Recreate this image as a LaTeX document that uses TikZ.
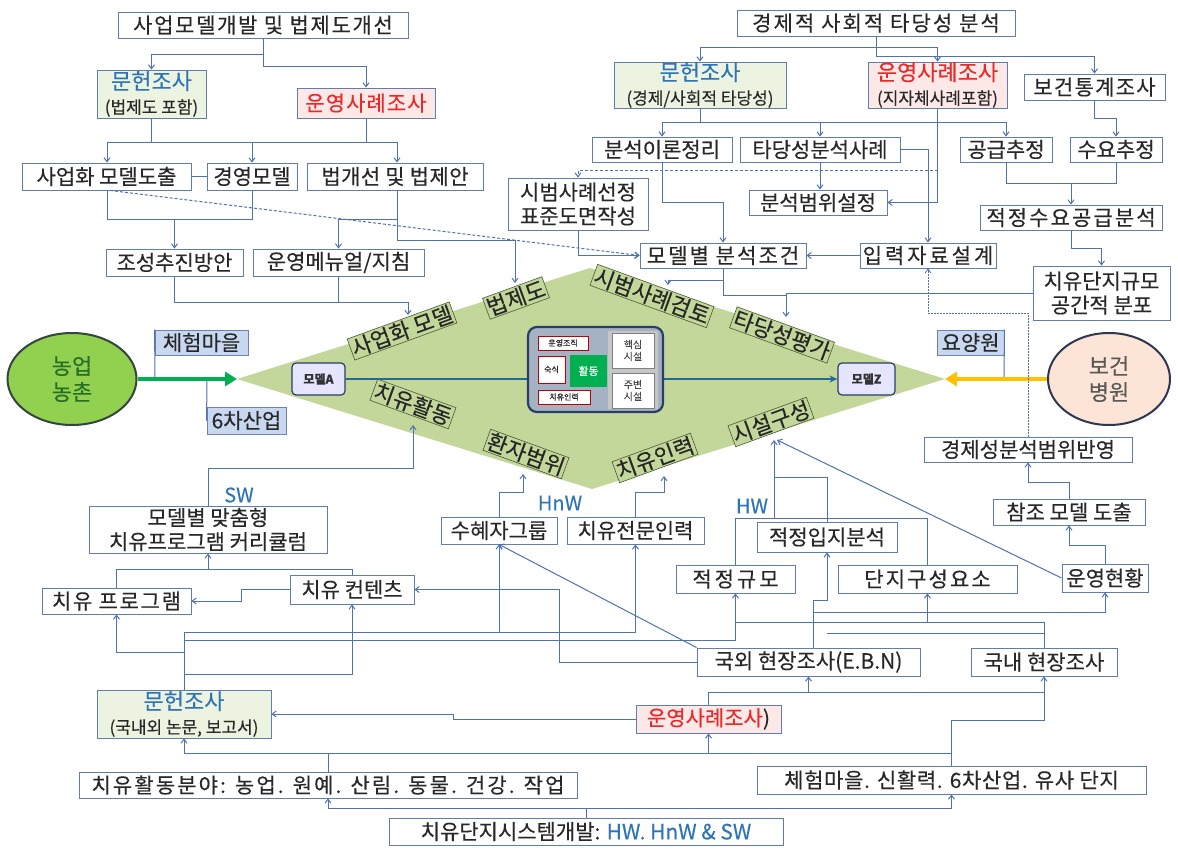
\documentclass[tikz,border=0pt]{standalone}
\usepackage{fontspec}
\setmainfont{Noto Sans CJK KR}[FakeBold=0.3]
\usetikzlibrary{arrows.meta,shapes.geometric}
\definecolor{bd}{RGB}{96,124,176}
\definecolor{cn}{RGB}{79,114,180}
\definecolor{tx}{RGB}{40,40,40}
\definecolor{dg}{RGB}{196,215,155}
\definecolor{dlbd}{RGB}{70,90,50}
\definecolor{blt}{RGB}{46,117,182}
\definecolor{rdt}{RGB}{235,40,40}
\definecolor{gfill}{RGB}{236,243,224}
\definecolor{pfill}{RGB}{253,232,232}
\definecolor{lfill}{RGB}{200,216,240}
\definecolor{lbd}{RGB}{110,130,170}
\definecolor{tealc}{RGB}{35,105,150}
\definecolor{cbd}{RGB}{40,62,100}
\definecolor{cfill}{RGB}{165,178,196}
\definecolor{grn}{RGB}{0,176,80}
\definecolor{org}{RGB}{255,192,0}
\newcommand\LS[2]{{\addfontfeature{LetterSpace=#1}#2}}
\newcommand\bx[7][]{\node[box,minimum width={(#5)-(#3)},minimum height={(#6)-(#4)},#1] (#2) at ({((#3)+(#5))/2},{((#4)+(#6))/2}) {#7};}
\begin{document}
\begin{tikzpicture}[x=1pt,y=-1pt,
  box/.style={draw=bd,line width=0.9pt,fill=white,inner sep=0pt,align=center,text=tx,font=\fontsize{21}{24}\selectfont},
  ar/.style={draw=cn,line width=1pt,-{Straight Barb[length=4pt,width=6pt]}},
  ln/.style={draw=cn,line width=1pt},
  dsh/.style={dash pattern=on 3pt off 2pt},
  dotl/.style={dash pattern=on 1.5pt off 1.5pt,line width=0.8pt},
  dlab/.style={draw=dlbd,line width=0.6pt,fill=dg,inner sep=1.2pt,text=black!85,font=\fontsize{22}{24}\selectfont},
  lab/.style={box,fill=lfill,draw=lbd},
  hl/.style={text=blt,font=\fontsize{20}{22}\selectfont,inner sep=0pt},
  sm/.style={box,draw=red!75!black,line width=1pt,font=\fontsize{8}{9}\selectfont},
  fac/.style={box,draw=gray,line width=0.6pt,text=gray!60!black,font=\fontsize{10}{12}\selectfont},
  mdl/.style={draw=cbd,line width=1.2pt,fill=blue!10,rounded corners=4pt,inner sep=0pt,font=\fontsize{12}{14}\selectfont\bfseries,text=black!80}
]
\useasboundingbox (0,0) rectangle (1178,851);
\fill[white] (0,0) rectangle (1178,851);
% diamond
\fill[dg] (237,379) -- (590,268) -- (945,379) -- (592,489) -- cycle;

% ---------- top left ----------
\bx{A1}{118}{12}{408}{38}{\LS{8}{사업모델개발 및 법제도개선}}
\bx[fill=gfill]{A2}{97}{70}{206}{118}{{\color{blt}\fontsize{22}{23}\selectfont 문헌조사}\\{\fontsize{17}{19}\selectfont (법제도 포함)}}
\bx[fill=pfill,text=rdt]{A3}{297}{88}{435}{118}{\LS{5}{운영사례조사}}
\bx{A4}{22}{163}{191}{190}{사업화 모델도출}
\bx{A5}{207}{163}{297}{190}{경영모델}
\bx{A6}{307}{163}{483}{190}{\LS{2}{법개선 및 법제안}}
\bx{A7}{106}{249}{243}{276}{조성추진방안}
\bx{A8}{253}{249}{424}{276}{운영메뉴얼/지침}

% ---------- top right ----------
\bx{B1}{737}{10}{1015}{36}{\LS{10}{경제적 사회적 타당성 분석}}
\bx[fill=gfill]{B2}{614}{62}{786}{108}{{\color{blt}\fontsize{22}{24}\selectfont 문헌조사}\\{\fontsize{17}{19}\selectfont (경제/사회적 타당성)}}
\bx[fill=pfill]{B3}{868}{62}{1007}{108}{{\color{rdt}\fontsize{22}{24}\selectfont 운영사례조사}\\{\fontsize{17}{19}\selectfont (지자체사례포함)}}
\bx{B4}{1024}{74}{1165}{100}{\LS{6}{보건통계조사}}
\bx{B5}{592}{137}{732}{162}{분석이론정리}
\bx{B6}{740}{137}{900}{162}{타당성분석사례}
\bx{B7}{960}{137}{1052}{162}{공급추정}
\bx{B8}{1070}{137}{1162}{162}{수요추정}
\bx{B9}{508}{178}{648}{230}{시범사례선정\\표준도면작성}
\bx{B10}{749}{190}{887}{215}{분석범위설정}
\bx{B11}{980}{205}{1162}{230}{\LS{10}{적정수요공급분석}}
\bx{B12}{640}{243}{806}{268}{\LS{10}{모델별 분석조건}}
\bx{B13}{860}{243}{996}{268}{\LS{14}{입력자료설계}}
\bx{B14}{1033}{266}{1170}{320}{치유단지규모\\공간적 분포}

% ---------- middle ----------
\bx[lab]{Lc}{155}{330}{248}{355}{체험마을}
\bx[lab]{L6x}{207}{407}{286}{434}{6차산업}
\bx[lab]{Ly}{937}{330}{1004}{355}{요양원}
\draw[ln] (Lc.north west) -- (155,379);
\draw[ln] (L6x.west) -- (207,379);
\draw[ln] (Ly.north east) -- (1004,379);

\node[ellipse,draw={rgb,255:red,50;green,70;blue,60},line width=2pt,fill={rgb,255:red,146;green,208;blue,80},minimum width=129,minimum height=92,inner sep=0pt,align=center,text={rgb,255:red,40;green,110;blue,40},font=\fontsize{22}{26}\selectfont] (N1) at (72,379) {농업\\농촌};
\node[ellipse,draw={rgb,255:red,45;green,55;blue,80},line width=2pt,fill={rgb,255:red,252;green,228;blue,214},minimum width=122,minimum height=92,inner sep=0pt,align=center,text=black!65,font=\fontsize{22}{26}\selectfont] (N2) at (1109,379) {보건\\병원};
\draw[line width=3.5pt,grn,-{Triangle[length=12pt,width=14pt]}] (N1.east) -- (237,379);
\draw[line width=3.5pt,org,-{Triangle[length=12pt,width=14pt]}] (N2.west) -- (945,379);

\node[mdl,minimum width=53,minimum height=32] (MA) at (318.5,379) {모델A};
\node[mdl,minimum width=57,minimum height=32] (MZ) at (866.5,379) {모델Z};
\draw[tealc,line width=1.8pt,-{Stealth[length=8pt,width=7pt]}] (MA.east) -- (MZ.west);

% center box
\node[draw=cbd,line width=2.2pt,fill=cfill,rounded corners=9pt,minimum width=135,minimum height=85] (CB) at (595.5,369.5) {};
\fill[gray!45] (608,331) rectangle (658,409);
\bx[sm]{c1}{538}{336}{588}{350}{운영조직}
\bx[sm]{c2}{538}{356}{565}{383}{숙식}
\bx[box,draw=none,fill=grn,text=white,font=\fontsize{11}{13}\selectfont]{c3}{570}{355}{607}{387}{활동}
\bx[sm]{c4}{538}{390}{590}{404}{치유인력}
\bx[fac]{c5}{612}{333}{654}{368}{핵심\\시설}
\bx[fac]{c6}{612}{373}{654}{408}{주변\\시설}

% diamond labels
\node[dlab,rotate=20] (L1) at (402,331) {사업화 모델};
\node[dlab,rotate=20] (L2) at (516,298) {법제도};
\node[dlab,rotate=-20] (L3) at (652,296) {시범사례검토};
\node[dlab,rotate=-20] (L4) at (782,335) {타당성평가};
\node[dlab,rotate=-20] (L5) at (413,404) {치유활동};
\node[dlab,rotate=-20] (L6) at (526,454) {환자범위};
\node[dlab,rotate=20] (L7) at (655,458) {치유인력};
\node[dlab,rotate=20] (L8) at (771,422) {시설구성};

% ---------- lower ----------
\bx{E1}{924}{437}{1132}{462}{경제성분석범위반영}
\bx{R2}{993}{499}{1145}{525}{참조 모델 도출}
\bx{R1}{1062}{564}{1148}{592}{운영현황}
\bx{P1}{89}{506}{327}{553}{모델별 맞춤형\\치유프로그램 커리큘럼}
\bx{S1}{441}{517}{557}{544}{수혜자그룹}
\bx{S2}{567}{517}{704}{544}{치유전문인력}
\bx{Q2}{757}{522}{897}{552}{적정입지분석}
\bx{Q1}{676}{565}{795}{593}{\LS{14}{적정규모}}
\bx{Q3}{838}{565}{1017}{593}{\LS{10}{단지구성요소}}
\bx{P2}{42}{588}{191}{614}{\LS{8}{치유 프로그램}}
\bx{P3}{290}{575}{414}{604}{치유 컨텐츠}
\bx{F1}{697}{648}{920}{676}{국외 현장조사(E.B.N)}
\bx{F2}{971}{648}{1117}{676}{국내 현장조사}
\bx[fill=gfill]{D1}{97}{690}{271}{738}{{\color{blt}\fontsize{22}{23}\selectfont 문헌조사}\\{\fontsize{17}{19}\selectfont (국내외 논문, 보고서)}}
\bx[fill=pfill]{O1}{636}{705}{781}{733}{{\color{rdt}운영사례조사})}
\bx{H1}{79}{772}{577}{798}{\LS{10}{치유활동분야: 농업. 원예. 산림. 동물. 건강. 작업}}
\bx{V1}{757}{766}{1146}{794}{\LS{3}{체험마을. 신활력. 6차산업. 유사 단지}}
\bx{Sys}{389}{818}{783}{845}{치유단지시스템개발: {\color{blt}HW. HnW \& SW}}
\node[hl] (tSW) at (239,495) {SW};
\node[hl] (tHnW) at (560,503) {HnW};
\node[hl] (tHW) at (752,506) {HW};

% ---------- connectors: top left ----------
\draw[ar] (A1.south) -- (A1.south |- 0,55) -| (A2.north);
\draw[ar] (A1.south |- 0,55) -- (A1.south |- 0,67) -| (A3.north);
\draw[ln] (A2.south) -- (A2.south |- 0,142);
\draw[ln] (A3.south) -- (A3.south |- 0,142);
\draw[ln] (107,142) -- (397,142);
\draw[ar] (107,142) -- (A4.north -| 107,0);
\draw[ar] (A5.north |- 0,142) -- (A5.north);
\draw[ar] (397,142) -- (A6.north -| 397,0);
\draw[ln] (A4.east) -- (A5.west);
\draw[ln] (A4.south -| 107,0) |- (A5.south |- 0,219) -- (A5.south);
\draw[ar] (A7.north |- 0,219) -- (A7.north);
\draw[ar] (A6.south -| 397,0) |- (515,240) -- (515,283);
\draw[ar] (397,219) -| (A8.north);
\draw[ln] (A7.south) |- (408,302);
\draw[ln] (A8.south) -- (A8.south |- 0,302);
\draw[ar] (408,302) -- (408,315);
\draw[ar,dsh] (A4.south -| 110,0) -- (B12.west);

% ---------- connectors: top right ----------
\draw[ar] (B1.south) -- (B1.south |- 0,48) -| (B2.north);
\draw[ar] (B1.south |- 0,48) -| (B3.north);
\draw[ar] (B1.south |- 0,48) -- (B1.south |- 0,57) -| (B4.north);
\draw[ln] (B2.south) -- (B2.south |- 0,122);
\draw[ln] (B5.north |- 0,122) -- (B7.north |- 0,122);
\draw[ar] (B5.north |- 0,122) -- (B5.north);
\draw[ar] (B6.north |- 0,122) -- (B6.north);
\draw[ar] (B7.north |- 0,122) -- (B7.north);
\draw[ar] (B3.south) |- (B10.east);
\draw[ar,dsh] (B3.south |- 0,170) -| (B9.north);
\draw[ar] (B4.south) |- (B8.north |- 0,118) -- (B8.north);
\draw[ar] (B5.south) |- (B12.north |- 0,202) -- (B12.north);
\draw[ar] (B6.south) -- (B6.south |- B10.north);
\draw[ar] (B6.east) -| (B13.north);
\draw[ln] (B7.south) |- (B8.south |- 0,183) -- (B8.south);
\draw[ar] (B11.north |- 0,183) -- (B11.north);
\draw[ar] (B11.south) |- (B14.north |- 0,248) -- (B14.north);
\draw[ar] (B9.south) |- (B12.west);
\draw[ar] (B13.west) -- (B12.east);
\draw[ar] (B12.south) |- (668,280) -- (668,285);
\draw[ar] (B12.south) |- (786,295) -- (786,317);
\draw[ln] (B14.west) -| (786,295);
\draw[ar,dotl] (E1.north) |- (B13.south |- 0,313) -- (B13.south);

% ---------- connectors: lower ----------
\draw[ar] (P1.north) |- (413,468) -- (413,425);
\draw[ln] (P2.north) |- (P3.north |- 0,569) -- (P3.north);
\draw[ar] (P1.south |- 0,569) -- (P1.south);
\draw[ar] (P3.west) -- (241,589.5) |- (P2.east);
\draw[ar] (F1.west) -| (559,589.5) -- (P3.east);
\draw[ln] (D1.north) -- (D1.north |- 0,632) -- (S2.south |- 0,632);
\draw[ar] (S1.south |- 0,632) -- (S1.south);
\draw[ar] (S2.south |- 0,632) -- (S2.south);
\draw[ar] (D1.north |- 0,640) -| (Q1.south);
\draw[ar] (D1.north |- 0,652) -| (P2.south);
\draw[ar] (D1.north |- 0,674) -| (P3.south);
\draw[ar] (F1.north west) -- (S1.south);
\draw[ar] (S1.north) |- (523,492) -- (523,474);
\draw[ar] (S2.north) |- (664,492) -- (664,476);
\draw[ln] (Q1.north) |- (Q3.north |- 0,518) -- (Q3.north);
\draw[ar] (774,518) -- (774,440);
\draw[ln] (Q2.north) |- (774,477);
\draw[ar] (F1.north -| 813,0) |- (Q2.south |- 0,600) -- (Q2.south);
\draw[ln] (F2.north) -- (F2.north |- 0,622) -- (Q1.south |- 0,622);
\draw[ln] (F2.north |- 0,633) -- (Q2.south |- 0,633);
\draw[ar] (813,612) -| (R1.south);
\draw[ar] (Q3.south |- 0,622) -- (Q3.south);
\draw[ar] (R1.west) -- (777,440);
\draw[ar] (R1.north) |- (R2.south |- 0,545) -- (R2.south);
\draw[ar] (R2.north) |- (E1.south |- 0,482) -- (E1.south);
\draw[ar] (O1.west) -| (453,714) -- (D1.east);
\draw[ar] (O1.north) |- (F2.south |- 0,692) -- (F2.south);
\draw[ar] (F1.south |- 0,692) -- (F1.south);
\draw[ln] (V1.north) |- (F2.south |- 0,720) -- (F2.south |- 0,692);
\draw[ar] (H1.north) |- (D1.south |- 0,753) -- (D1.south);
\draw[ln] (H1.north |- 0,753) -- (V1.north |- 0,753);
\draw[ar] (O1.south |- 0,753) -- (O1.south);
\draw[ar] (Sys.north) |- (H1.south |- 0,808) -- (H1.south);
\draw[ar] (Sys.north |- 0,808) -| (V1.south);
\end{tikzpicture}
\end{document}
